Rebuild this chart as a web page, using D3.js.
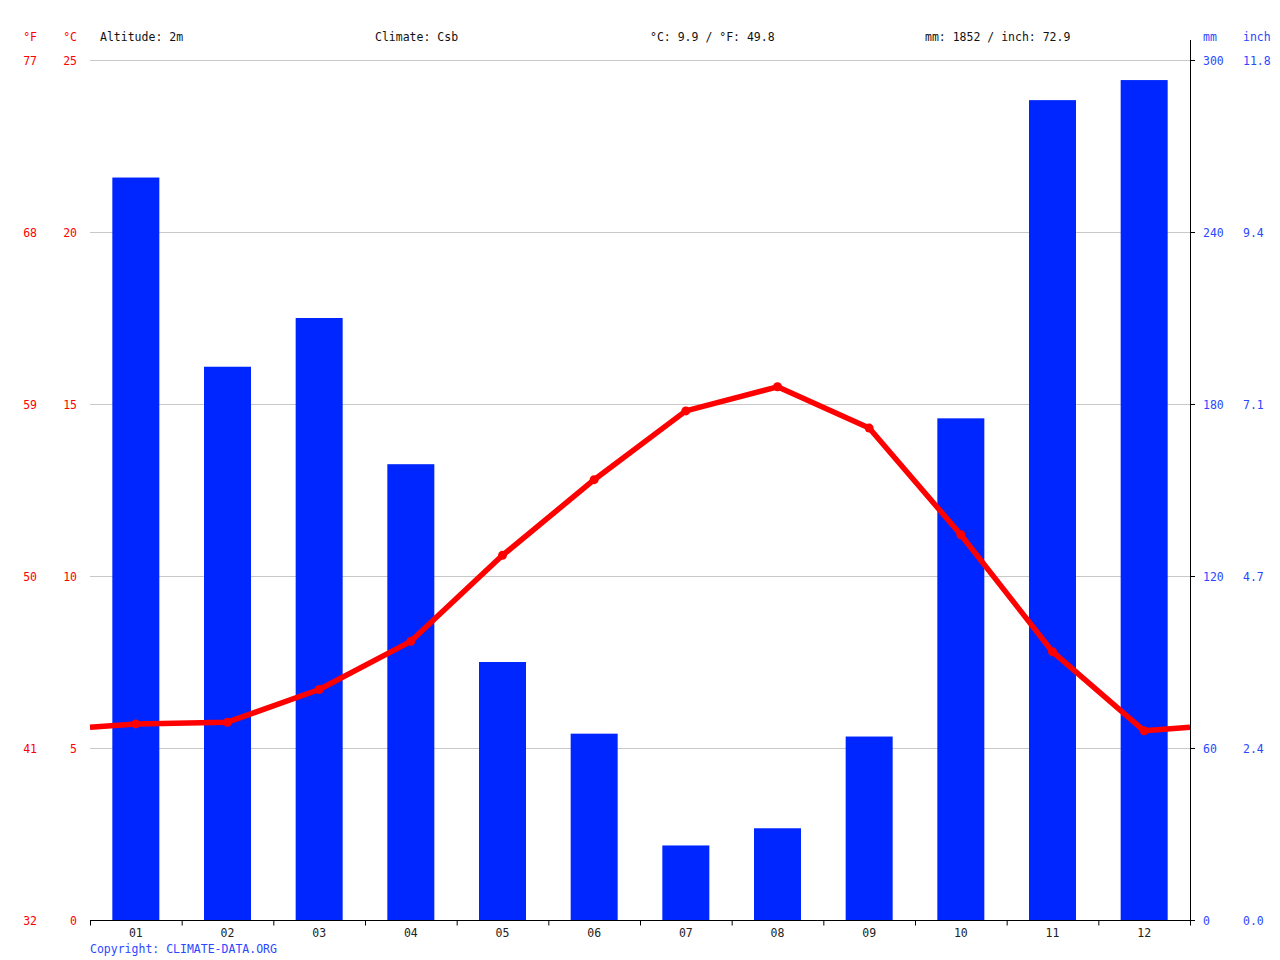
<!DOCTYPE html>
<html>
<head>
<meta charset="utf-8">
<script src="https://cdn.jsdelivr.net/npm/d3@7"></script>
<style>
  body { margin: 0; background: #fff; }
  svg text { font-family: "DejaVu Sans Mono", monospace; font-size: 11.5px; }
</style>
</head>
<body>
<svg id="chart" width="1280" height="960"></svg>
<script>
// climate data
const months = ['01', '02', '03', '04', '05', '06', '07', '08', '09', '10', '11', '12'];
const precipMm = [259, 193, 210, 159, 90, 65, 26, 32, 64, 175, 286, 293];
const tempC = [5.7, 5.75, 6.7, 8.1, 10.6, 12.8, 14.8, 15.5, 14.3, 11.2, 7.8, 5.5];

const tempTicksC = [0, 5, 10, 15, 20, 25];
const precipTicks = [0, 60, 120, 180, 240, 300];
const headerTexts = ['Altitude: 2m', 'Climate: Csb', '°C: 9.9 / °F: 49.8', 'mm: 1852 / inch: 72.9'];

const red = '#ff0000', blue = '#0026ff', labelBlue = '#2a48ff';

const plotL = 90, plotR = 1190, plotT = 60, plotB = 920;
const svg = d3.select('#chart');

const x = d3.scaleBand().domain(months).range([plotL, plotR]);
const yT = d3.scaleLinear().domain([0, 25]).range([plotB, plotT]);
const yP = d3.scaleLinear().domain([0, 300]).range([plotB, plotT]);

// grid
svg.append('g').selectAll('line')
  .data(tempTicksC.filter(d => d > 0))
  .enter().append('line')
  .attr('x1', plotL).attr('x2', plotR)
  .attr('y1', d => yT(d) + 0.5).attr('y2', d => yT(d) + 0.5)
  .attr('stroke', '#c8c8c8').attr('stroke-width', 1);

// bars
const barW = 47;
svg.append('g').selectAll('rect')
  .data(precipMm)
  .enter().append('rect')
  .attr('x', (d, i) => x(months[i]) + x.bandwidth() / 2 - barW / 2)
  .attr('width', barW)
  .attr('y', d => yP(d))
  .attr('height', d => plotB - yP(d))
  .attr('fill', blue);

// bottom axis
const xAxis = svg.append('g').attr('transform', `translate(0,${plotB + 0.5})`);
xAxis.append('line').attr('x1', plotL).attr('x2', plotR).attr('stroke', '#000');
xAxis.selectAll('.tk')
  .data(months.concat(['end']))
  .enter().append('line')
  .attr('x1', (d, i) => plotL + i * x.step() + 0.5).attr('x2', (d, i) => plotL + i * x.step() + 0.5)
  .attr('y1', 0).attr('y2', 5).attr('stroke', '#000');
xAxis.selectAll('text')
  .data(months)
  .enter().append('text')
  .attr('x', d => x(d) + x.bandwidth() / 2)
  .attr('y', 16)
  .attr('text-anchor', 'middle')
  .attr('fill', '#222')
  .text(d => d);

// right axis line
svg.append('line')
  .attr('x1', plotR + 0.5).attr('x2', plotR + 0.5)
  .attr('y1', 40).attr('y2', plotB)
  .attr('stroke', '#000');
svg.append('g').selectAll('line')
  .data(precipTicks)
  .enter().append('line')
  .attr('x1', plotR).attr('x2', plotR + 5)
  .attr('y1', d => yP(d) + 0.5).attr('y2', d => yP(d) + 0.5)
  .attr('stroke', '#000');

// temperature line, wrapped at both ends
const edgeT = (tempC[0] + tempC[11]) / 2;
const linePts = [[plotL, edgeT]]
  .concat(tempC.map((d, i) => [x(months[i]) + x.bandwidth() / 2, d]))
  .concat([[plotR, edgeT]]);
svg.append('path')
  .datum(linePts)
  .attr('fill', 'none')
  .attr('stroke', red)
  .attr('stroke-width', 5.5)
  .attr('stroke-linejoin', 'round')
  .attr('d', d3.line().x(d => d[0]).y(d => yT(d[1])));
svg.append('g').selectAll('circle')
  .data(tempC)
  .enter().append('circle')
  .attr('cx', (d, i) => x(months[i]) + x.bandwidth() / 2)
  .attr('cy', d => yT(d))
  .attr('r', 4.5)
  .attr('fill', red);

// left labels
const lab = svg.append('g');
lab.selectAll('.c')
  .data(tempTicksC)
  .enter().append('text')
  .attr('x', 77).attr('y', d => yT(d) + 5)
  .attr('text-anchor', 'end').attr('fill', red)
  .text(d => d);
lab.selectAll('.f')
  .data(tempTicksC)
  .enter().append('text')
  .attr('x', 37).attr('y', d => yT(d) + 5)
  .attr('text-anchor', 'end').attr('fill', red)
  .text(d => Math.round(d * 9 / 5 + 32));
lab.append('text').attr('x', 37).attr('y', 41).attr('text-anchor', 'end').attr('fill', red).text('°F');
lab.append('text').attr('x', 77).attr('y', 41).attr('text-anchor', 'end').attr('fill', red).text('°C');

// right labels
lab.selectAll('.mm')
  .data(precipTicks)
  .enter().append('text')
  .attr('x', 1203).attr('y', d => yP(d) + 5)
  .attr('fill', labelBlue)
  .text(d => d);
lab.selectAll('.in')
  .data(precipTicks)
  .enter().append('text')
  .attr('x', 1243).attr('y', d => yP(d) + 5)
  .attr('fill', labelBlue)
  .text(d => (d / 25.4).toFixed(1));
lab.append('text').attr('x', 1203).attr('y', 41).attr('fill', labelBlue).text('mm');
lab.append('text').attr('x', 1243).attr('y', 41).attr('fill', labelBlue).text('inch');

// header
svg.append('g').selectAll('text')
  .data(headerTexts)
  .enter().append('text')
  .attr('x', (d, i) => 100 + i * 275)
  .attr('y', 41)
  .attr('fill', '#111')
  .text(d => d);

svg.append('text')
  .attr('x', 90).attr('y', 953)
  .attr('fill', labelBlue)
  .text('Copyright: CLIMATE-DATA.ORG');
</script>
</body>
</html>
